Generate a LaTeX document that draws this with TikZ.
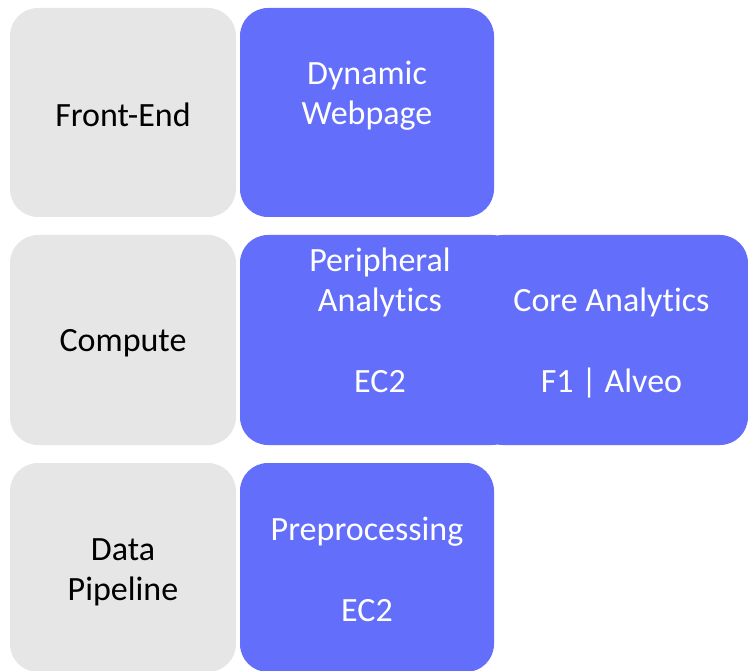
\documentclass[tikz,border=0pt]{standalone}
\usepackage{fontspec}
\setmainfont[Ligatures=NoCommon,Contextuals=NoAlternate]{Carlito}
\usepackage{tikz}
\definecolor{layergray}{HTML}{E6E6E6}
\definecolor{serviceblue}{HTML}{636EFA}

\begin{document}
\begin{tikzpicture}[x=1pt, y=-1pt,
                    layer/.style={fill=layergray, rounded corners=28pt},
                    service/.style={fill=serviceblue, rounded corners=28pt},
                    dark/.style={anchor=base, text=black, inner sep=0pt,
                                 font=\fontsize{34}{40}\selectfont},
                    light/.style={anchor=base, text=white, inner sep=0pt,
                                  font=\fontsize{34}{40}\selectfont}]

\useasboundingbox (0,0) rectangle (748,671);

%left column
\path [layer] (10,8) rectangle (236,217);
\path [layer] (10,235) rectangle (236,445);
\path [layer] (10,463) rectangle (236,672);

%front-end row
\path [service] (240,8) rectangle (494,217);

%compute row
\path [service] (240,235) rectangle (520,445);
\path [service] (475,235) rectangle (748,445);

%data pipeline row
\path [service] (240,463) rectangle (494,672);

% labels
\node [dark] (frontend) at (123,127) {Front-End};
\node [dark] (compute) at (123,352) {Compute};
\node [dark] (data) at (123,560) {Data};
\node [dark] (pipeline) at (123,600) {Pipeline};

\node [light] (dynamic) at (367,85) {Dynamic};
\node [light] (webpage) at (367,125) {Webpage};

\node [light] (peripheral) at (380,272) {Peripheral};
\node [light] (analytics) at (380,312) {Analytics};
\node [light] (ectwo) at (380,392) {EC2};

\node [light] (core) at (611.5,312) {Core Analytics};
\node [light] (alveo) at (611.5,392) {F1 | Alveo};

\node [light] (preproc) at (367,540) {Preprocessing};
\node [light] (preectwo) at (367,621) {EC2};

\end{tikzpicture}
\end{document}
